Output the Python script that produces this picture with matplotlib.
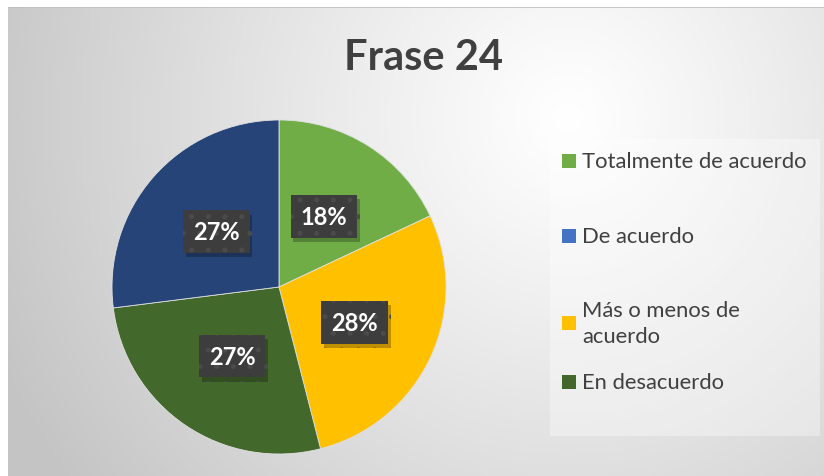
import numpy as np
import matplotlib.pyplot as plt
import matplotlib.patheffects as pe
from matplotlib.patches import Rectangle

# datos de la gráfica
categorias = ['Totalmente de acuerdo', 'Más o menos de acuerdo', 'En desacuerdo', 'De acuerdo']
valores = [18, 28, 27, 27]
colores = ['#70AD47', '#FFC000', '#43682B', '#264478']

leyenda = ['Totalmente de acuerdo', 'De acuerdo', 'Más o menos de\nacuerdo', 'En desacuerdo']
leyenda_col = ['#70AD47', '#4472C4', '#FFC000', '#43682B']

titulo = 'Frase 24'

W, H = 824, 477
plt.rcParams['font.family'] = ['Lato', 'DejaVu Sans']
plt.rcParams['hatch.linewidth'] = 1.2
fig = plt.figure(figsize=(W / 100, H / 100), dpi=100)
fig.patch.set_facecolor('white')

# fondo con degradado radial
bg = fig.add_axes([8 / W, 0, 1 - 8 / W, 1 - 8 / H])
bg.axis('off')
yy, xx = np.mgrid[0:469, 0:816]
cx, cy = 560, 110
d = np.sqrt((xx - cx) ** 2 + (yy - cy) ** 2) / 620
d = np.clip(d, 0, 1)
g = 1.0 - 0.23 * d ** 1.1
bg.imshow(np.dstack([g, g, g]), aspect='auto', extent=[0, 1, 0, 1], origin='upper')
bg.set_xlim(0, 1)
bg.set_ylim(0, 1)
bg.plot([0, 1], [0.999, 0.999], color='#bfbfbf', lw=1.2)

# caja de la leyenda
fig.patches.append(Rectangle((550 / W, 1 - 437 / H), 270 / W, 297 / H,
                             transform=fig.transFigure, facecolor='white',
                             alpha=0.35, edgecolor='none', zorder=1))

# pastel
cxp, cyp, r = 279, 288, 167
ax = fig.add_axes([(cxp - r) / W, (H - cyp - r) / H, 2 * r / W, 2 * r / H])
wedges, _ = ax.pie(valores, colors=colores, startangle=90, counterclock=False,
                   radius=1, wedgeprops=dict(edgecolor='#e0e0e0', linewidth=0.6))
ax.set_xlim(-1, 1)
ax.set_ylim(-1, 1)
ax.set_aspect('equal')

# etiquetas de porcentaje
total = sum(valores)
ang0 = 90
sombra = [pe.SimplePatchShadow(offset=(2, -3), shadow_rgbFace='black', alpha=0.25), pe.Normal()]
for v in valores:
    ang = ang0 - 360 * v / total / 2
    ang0 -= 360 * v / total
    x = 0.5 * np.cos(np.radians(ang))
    y = 0.5 * np.sin(np.radians(ang))
    txt = f'{round(100 * v / total)}%'
    t = ax.text(x, y, txt, ha='center', va='center', fontsize=17,
                fontweight='bold', color='white',
                bbox=dict(boxstyle='square,pad=0.42', facecolor='#3d3d3d',
                          edgecolor='#4b4b4b', linewidth=0, hatch='.'))
    t.get_bbox_patch().set_path_effects(sombra)

# leyenda
filas = [162, 237, 324, 383]
for lab, col, y in zip(leyenda, leyenda_col, filas):
    fig.patches.append(Rectangle((562 / W, 1 - (y + 7) / H), 14 / W, 14 / H,
                                 transform=fig.transFigure, facecolor=col,
                                 edgecolor='none', zorder=3))
    fig.text(582 / W, 1 - y / H, lab, ha='left', va='center', fontsize=15.8,
             color='#404040', linespacing=1.4)

# título
fig.text(424 / W, 1 - 58 / H, titulo, ha='center', va='center', fontsize=30,
         fontweight='bold', color='#404040')

fig.savefig('out.png', dpi=100)
